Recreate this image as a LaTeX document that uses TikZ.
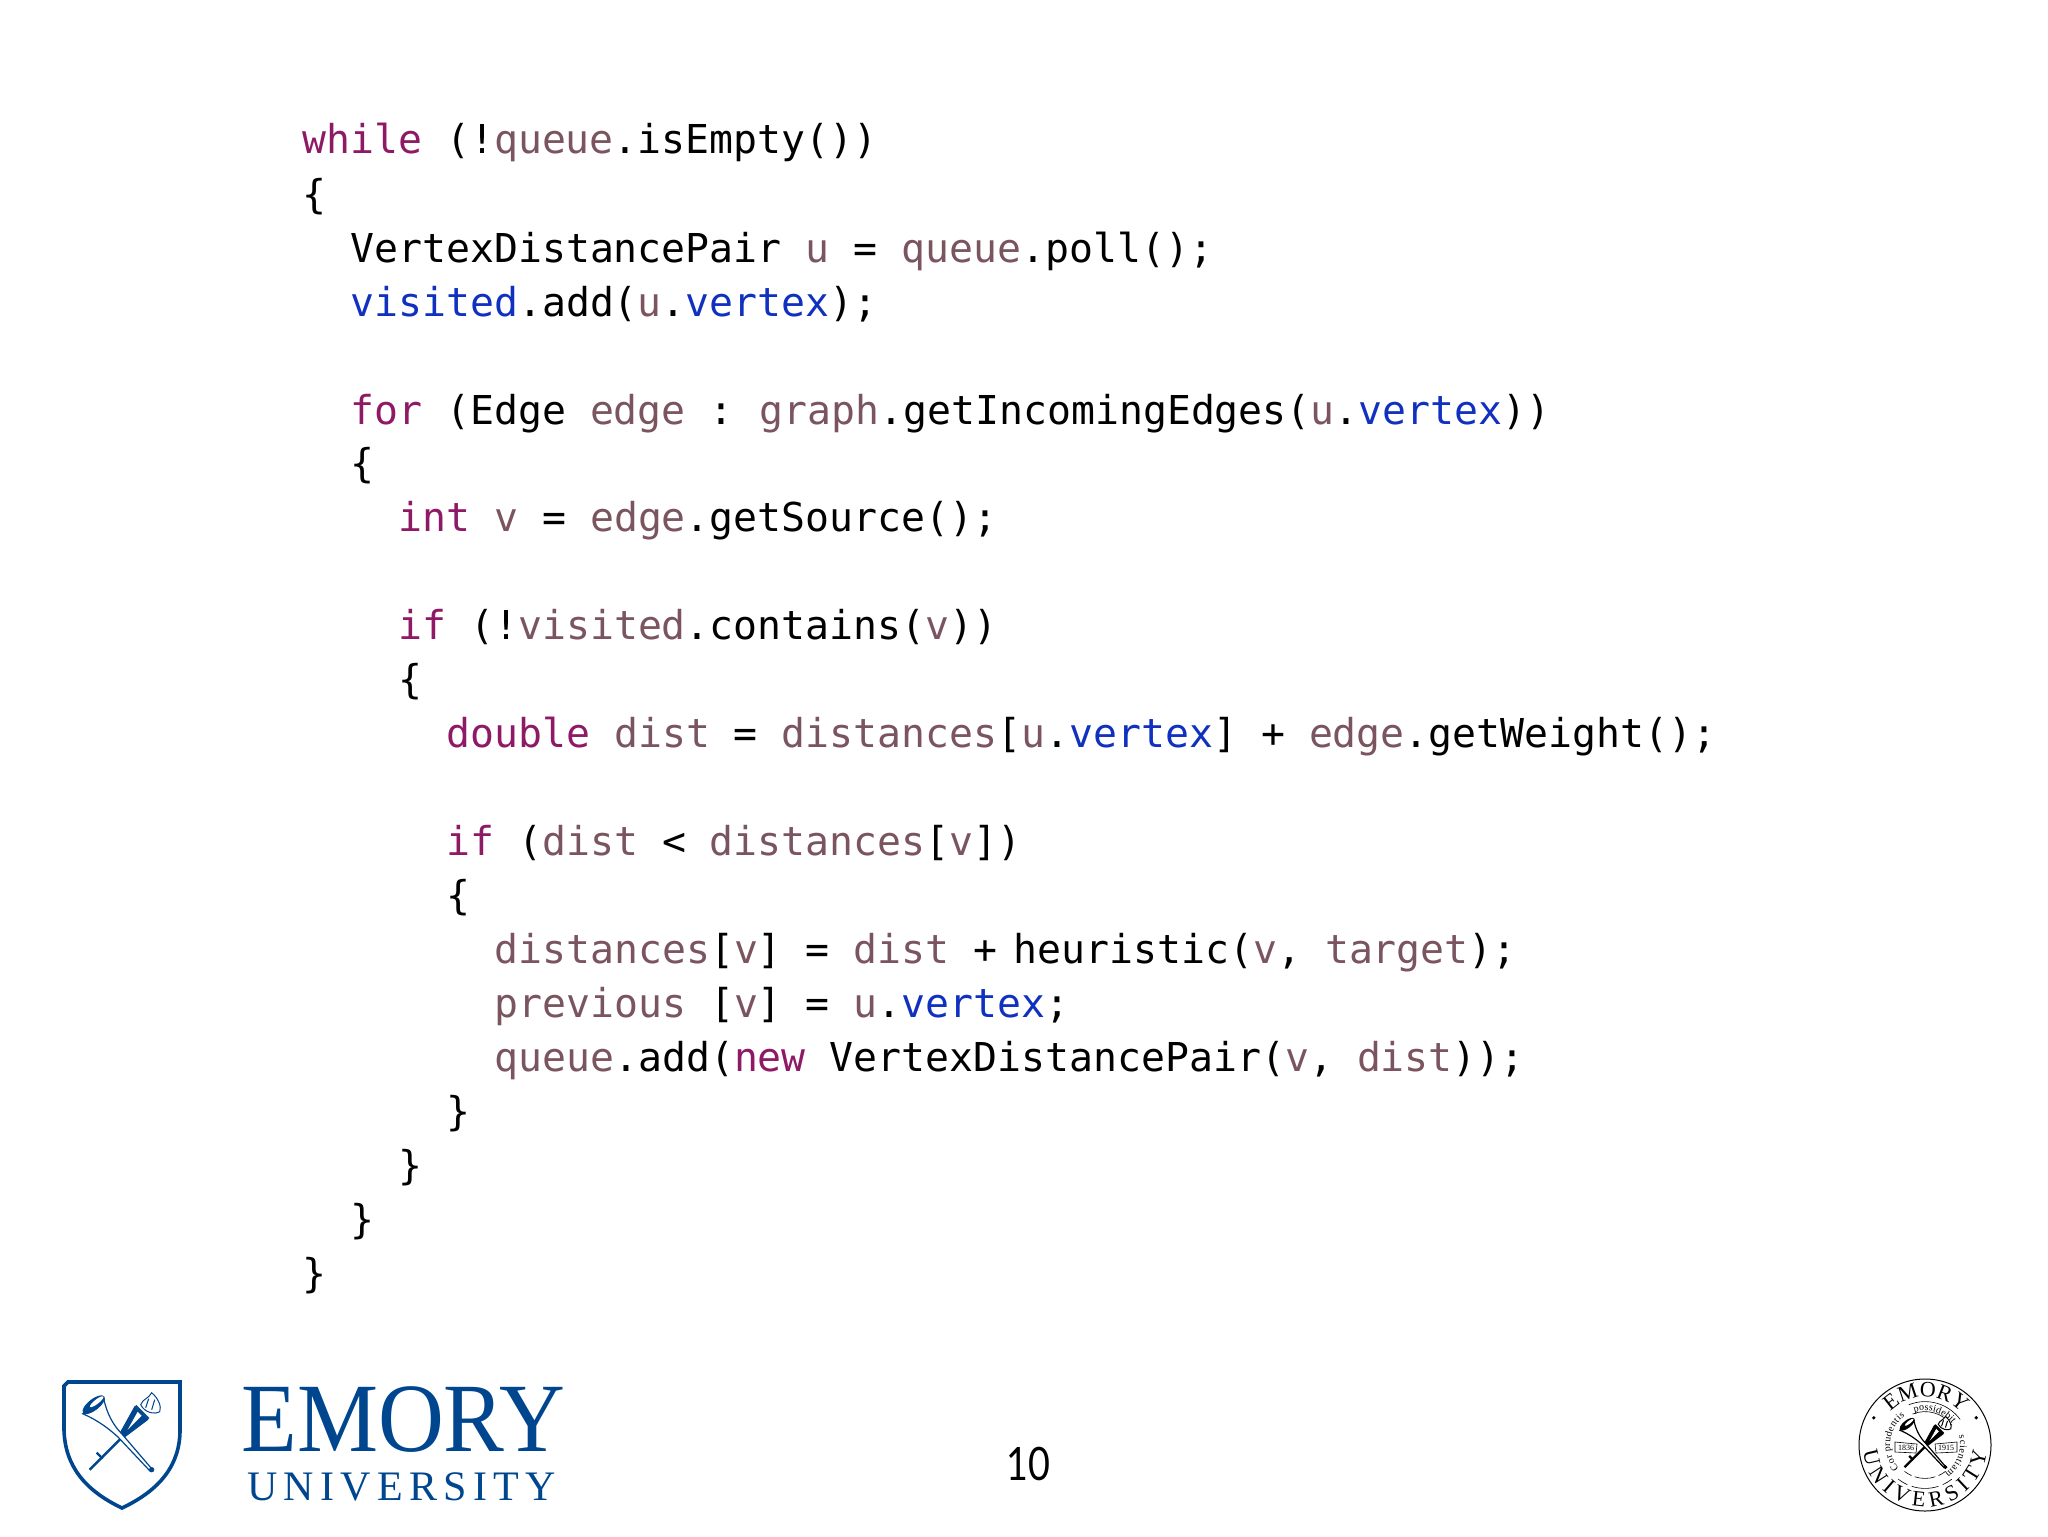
\documentclass[tikz,border=0pt]{standalone}
\usepackage{fontspec}
\usetikzlibrary{decorations.text}
\setmainfont{Liberation Serif}
\newfontfamily\codefont{DejaVu Sans Mono}
\newfontfamily\pagefont{Lato}
\newfontfamily\uniletters[LetterSpace=15]{Liberation Serif}
\definecolor{keywordc}{HTML}{8E1A66}
\definecolor{varc}{HTML}{7A5560}
\definecolor{fieldc}{HTML}{1030C0}
\definecolor{emoryblue}{HTML}{00468F}
\newcommand{\kw}[1]{\textcolor{keywordc}{#1}}
\newcommand{\vr}[1]{\textcolor{varc}{#1}}
\newcommand{\fd}[1]{\textcolor{fieldc}{#1}}
\tikzset{
	codeline/.style = {anchor = base west, inner sep = 0pt, font = \codefont\fontsize{19.9}{24}\selectfont},
	ringtext/.style = {decorate, decoration = {text along path, text align = {fit to path}, text = {#1}}},
	crossed/.pic = {
		\fill[pic actions] (14,-34) -- (27,-21) -- (3,-3) -- (-1,-7) -- cycle;
		\draw[pic actions, line width = 1.2pt] (0,-2) -- (-31,29);
		\draw[pic actions, line width = 1.2pt] (-24,12) -- (-18,18);
		\fill[white] (17,-29) -- (21,-25) -- (7,-11) -- cycle;
		\draw[pic actions, line width = 1pt] (15,-35) -- (28,-22);
		\draw[pic actions, fill = white, line width = 0.5pt] (20,-36) .. controls (22,-42) and (28,-42) .. (31,-48) .. controls (38,-42) and (41,-34) .. (39,-29) .. controls (34,-26) and (24,-28) .. (20,-36) -- cycle;
		\draw[pic actions, line width = 0.5pt] (25,-33) -- (28,-42) (31,-31) -- (34,-41);
		\draw[pic actions, fill = white, line width = 0.6pt] (-38,-27) .. controls (-22,-20) and (-12,-12) .. (-3,-4) -- (29,30) -- (31,28) -- (1,-7) .. controls (-8,-16) and (-14,-28) .. (-17,-42) -- cycle;
		\fill[pic actions, rotate around = {38:(-27,-36)}] (-27,-36) ellipse [x radius = 6.5pt, y radius = 2.6pt];
		\fill[white, rotate around = {38:(-24,-39)}] (-24,-39) ellipse [x radius = 4.2pt, y radius = 1.1pt];
		\fill[pic actions] (31,29) circle (1.1pt);
	}
}

\begin{document}
\begin{tikzpicture}[x = 0.5pt, y = -0.5pt]
	\useasboundingbox (0,0) rectangle (2048,1536);

	\node[codeline] (line1) at (302,154) {\kw{while} (!\vr{queue}.isEmpty())};
	\node[codeline] (line2) at (302,208) {\{};
	\node[codeline] (line3) at (350,262) {VertexDistancePair \vr{u} = \vr{queue}.poll();};
	\node[codeline] (line4) at (350,316) {\fd{visited}.add(\vr{u}.\fd{vertex});};
	\node[codeline] (line6) at (350,424) {\kw{for} (Edge \vr{edge} : \hspace{-3pt}\vr{graph}.getIncomingEdges(\vr{u}.\fd{vertex}))};
	\node[codeline] (line7) at (350,477.5) {\{};
	\node[codeline] (line8) at (398,531.5) {\kw{int} \vr{v} = \vr{edge}.getSource();};
	\node[codeline] (line10) at (398,639.5) {\kw{if} (!\vr{visited}.contains(\vr{v}))};
	\node[codeline] (line11) at (398,693.5) {\{};
	\node[codeline] (line12) at (446,747.5) {\kw{double} \vr{dist} = \vr{distances}[\vr{u}.\fd{vertex}] + \vr{edge}.getWeight();};
	\node[codeline] (line14) at (446,855.5) {\kw{if} (\vr{dist} < \vr{distances}[\vr{v}])};
	\node[codeline] (line15) at (446,909.5) {\{};
	\node[codeline] (line16) at (494,963.5) {\vr{distances}[\vr{v}] = \vr{dist} + \hspace{-4pt}heuristic(\vr{v}, \vr{target});};
	\node[codeline] (line17) at (494,1017.5) {\vr{previous} [\vr{v}] = \vr{u}.\fd{vertex};};
	\node[codeline] (line18) at (494,1071.5) {\vr{queue}.add(\kw{new} VertexDistancePair(\vr{v}, \vr{dist}));};
	\node[codeline] (line19) at (446,1125.5) {\}};
	\node[codeline] (line20) at (398,1179.5) {\}};
	\node[codeline] (line21) at (350,1233.5) {\}};
	\node[codeline] (line22) at (302,1287.5) {\}};

	\node[anchor = base, inner sep = 0pt, xscale = 0.82, font = \pagefont\fontsize{23}{24}\selectfont] (pagenum) at (1028,1480) {10};

	\draw[emoryblue, line width = 1.8pt, line join = miter] (68,1382) -- (180,1382) -- (180,1430) .. controls (180,1465) and (160,1490) .. (122,1508) .. controls (84,1490) and (65,1465) .. (64,1430) -- (64,1386) -- cycle;
	\pic[draw = emoryblue, fill = emoryblue] (shieldcross) at (120.7,1440.7) {crossed};
	\node[anchor = base west, inner sep = 0pt, text = emoryblue, xscale = 0.93, font = \fontsize{49}{49}\selectfont] (emory) at (241,1451) {EMORY};
	\node[anchor = base west, inner sep = 0pt, text = emoryblue, font = \uniletters\fontsize{21}{24}\selectfont] (university) at (247,1500) {UNIVERSITY};

	\node[draw, circle, line width = 0.5pt, minimum size = 66pt, inner sep = 0pt] (seal) at (1925,1445) {};
	\begin{scope}[shift = {(1925,1445)}, y = 0.5pt]
		\path[ringtext = {|\fontsize{11}{11}\selectfont|EMORY}] (136:24pt) arc [start angle = 136, end angle = 42, radius = 24pt];
		\path[ringtext = {|\fontsize{11}{11}\selectfont|UNIVERSITY}] (186:31pt) arc [start angle = 186, end angle = 354, radius = 31pt];
		\fill (152:29pt) circle (0.9pt);
		\fill (28:29pt) circle (0.9pt);

		\path[ringtext = {|\fontsize{5}{5}\selectfont|Cor prudentis}] (222:17.5pt) arc [start angle = 222, end angle = 125, radius = 17.5pt];
		\path[ringtext = {|\fontsize{5}{5}\selectfont|possidebit}] (108:17.2pt) arc [start angle = 108, end angle = 38, radius = 17.2pt];
		\path[ringtext = {|\fontsize{5}{5}\selectfont|scientiam}] (15:17.5pt) arc [start angle = 15, end angle = -55, radius = 17.5pt];

		\foreach \startang/\endang in {112/36, -72/-108, -52/-66, -114/-128}
		{
			\draw[line width = 0.3pt] (\startang:21.7pt) arc [start angle = \startang, end angle = \endang, radius = 21.7pt];
			\draw[line width = 0.3pt] (\startang:16.7pt) arc [start angle = \startang, end angle = \endang, radius = 16.7pt];
		}
	\end{scope}

	\draw[line width = 0.3pt] (1895,1442) -- (1917,1444) -- (1916,1453) -- (1895,1452) -- cycle;
	\draw[line width = 0.3pt] (1957,1442) -- (1935,1444) -- (1936,1453) -- (1957,1452) -- cycle;
	\node[inner sep = 0pt, font = \fontsize{4}{4}\selectfont] (yearleft) at (1906,1447.5) {1836};
	\node[inner sep = 0pt, font = \fontsize{4}{4}\selectfont] (yearright) at (1946,1447.5) {1915};

	\pic[draw = black, fill = black, scale = 0.66] (sealcross) at (1925,1448) {crossed};
\end{tikzpicture}
\end{document}
